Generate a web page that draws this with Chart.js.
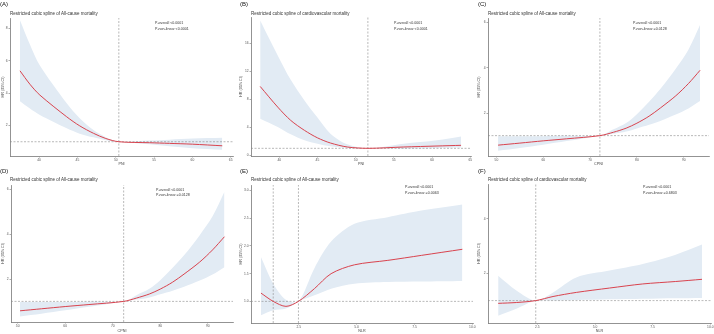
<!DOCTYPE html>
<html><head><meta charset="utf-8">
<script src="https://cdn.jsdelivr.net/npm/chart.js@4.4.0/dist/chart.umd.min.js"></script>
<style>
body{margin:0;background:#fff;width:714px;height:334px;position:relative;overflow:hidden;font-family:"Liberation Sans",Arial,sans-serif;}
.panel{position:absolute;width:238px;height:167px;}
.panel canvas{position:absolute;left:0;top:0;}
.lab{position:absolute;font-size:6px;color:#111;white-space:nowrap;line-height:1;}
.ttl{position:absolute;font-size:4.5px;color:#333;white-space:nowrap;line-height:1;}
.pv{position:absolute;font-size:3.6px;color:#333;white-space:nowrap;line-height:5.5px;}
</style></head><body>
<script>
// ---------- DATA ----------
// (A) PNI, all-cause mortality
const A_x  = [37.5, 38.8, 40.1, 43.6, 45.3, 47.1, 48.7, 50.4, 54.4, 57.0, 60.0, 63.9];
const A_hr = [5.38, 4.55, 3.88, 2.54, 1.98, 1.52, 1.20, 1.00, 0.94, 0.90, 0.85, 0.75];
const A_hi = [8.50, 7.00, 5.70, 3.37, 2.45, 1.72, 1.28, 1.00, 1.07, 1.13, 1.20, 1.25];
const A_lo = [3.50, 3.05, 2.65, 1.83, 1.50, 1.27, 1.10, 1.00, 0.84, 0.72, 0.60, 0.50];
const A_xticks = [40, 45, 50, 55, 60, 65];
const A_xlabels = ['40', '45', '50', '55', '60', '65'];
const A_yticks = [2, 4, 6, 8];
const A_ylabels = ['2', '4', '6', '8'];
const A_refs = [50.4];

// (B) PNI, cardiovascular mortality
const B_x  = [37.5, 39.8, 41.5, 43.3, 45.0, 46.7, 48.9, 51.6, 56.3, 60.65, 63.8];
const B_hr = [9.86, 6.90, 5.00, 3.57, 2.50, 1.76, 1.19, 1.00, 1.19, 1.33, 1.43];
const B_hi = [19.3, 14.3, 10.8, 7.86, 5.40, 3.10, 1.57, 1.00, 1.67, 2.14, 2.70];
const B_lo = [5.24, 4.05, 3.00, 2.14, 1.65, 1.29, 1.05, 1.00, 0.95, 1.05, 1.10];
const B_xticks = [40, 45, 50, 55, 60, 65];
const B_xlabels = ['40', '45', '50', '55', '60', '65'];
const B_yticks = [0, 4, 8, 12, 16];
const B_ylabels = ['0', '4', '8', '12', '16'];
const B_refs = [51.6];

// (C) CPNI, all-cause mortality
const C_x  = [50.35, 55.0, 60.0, 65.0, 72.1, 75.0, 77.7, 80.0, 82.6, 85.0, 88.3, 91.0, 93.5];
const C_hr = [0.58, 0.67, 0.77, 0.86, 1.00, 1.15, 1.33, 1.55, 1.86, 2.22, 2.76, 3.30, 3.89];
const C_hi = [0.97, 0.97, 0.97, 0.99, 1.00, 1.28, 1.56, 1.95, 2.50, 3.06, 3.96, 4.80, 5.90];
const C_lo = [0.33, 0.45, 0.60, 0.76, 1.00, 1.08, 1.18, 1.32, 1.48, 1.65, 1.93, 2.20, 2.53];
const C_xticks = [50, 60, 70, 80, 90];
const C_xlabels = ['50', '60', '70', '80', '90'];
const C_yticks = [2, 4, 6];
const C_ylabels = ['2', '4', '6'];
const C_refs = [72.1];

// (D) CPNI, all-cause mortality
const D_x  = [50.5, 55.0, 60.0, 65.0, 72.3, 75.0, 77.7, 80.0, 82.6, 85.0, 88.3, 91.0, 93.5];
const D_hr = [0.58, 0.67, 0.77, 0.86, 1.00, 1.15, 1.33, 1.55, 1.86, 2.22, 2.76, 3.30, 3.89];
const D_hi = [0.97, 0.97, 0.97, 0.99, 1.00, 1.28, 1.56, 1.95, 2.50, 3.06, 3.96, 4.80, 5.90];
const D_lo = [0.33, 0.45, 0.60, 0.76, 1.00, 1.08, 1.18, 1.32, 1.48, 1.65, 1.93, 2.20, 2.53];
const D_xticks = [50, 60, 70, 80, 90];
const D_xlabels = ['50', '60', '70', '80', '90'];
const D_yticks = [2, 4, 6];
const D_ylabels = ['2', '4', '6'];
const D_refs = [72.3];

// (E) NLR, all-cause mortality
const E_x  = [0.87, 1.40, 1.95, 2.49, 3.18, 3.90, 4.91, 6.35, 7.80, 9.57];
const E_hr = [1.15, 1.00, 0.91, 1.00, 1.23, 1.50, 1.66, 1.74, 1.83, 1.94];
const E_hi = [1.80, 1.32, 1.03, 1.00, 1.60, 2.08, 2.40, 2.52, 2.64, 2.75];
const E_lo = [0.75, 0.84, 0.87, 1.00, 1.11, 1.23, 1.32, 1.35, 1.36, 1.37];
const E_xticks = [2.5, 5.0, 7.5, 10.0];
const E_xlabels = ['2.5', '5.0', '7.5', '10.0'];
const E_yticks = [1.0, 1.5, 2.0, 2.5, 3.0];
const E_ylabels = ['1.0', '1.5', '2.0', '2.5', '3.0'];
const E_refs = [1.40, 2.49];

// (F) NLR, cardiovascular mortality
const F_x  = [0.80, 1.59, 2.43, 3.18, 4.19, 5.63, 7.07, 8.50, 9.64];
const F_hr = [0.90, 0.93, 1.00, 1.15, 1.30, 1.46, 1.61, 1.70, 1.78];
const F_hi = [1.91, 1.37, 1.00, 1.30, 1.85, 2.10, 2.34, 2.68, 3.05];
const F_lo = [0.45, 0.70, 1.00, 1.00, 1.02, 1.05, 1.07, 1.09, 1.10];
const F_xticks = [2.5, 5.0, 7.5, 10.0];
const F_xlabels = ['2.5', '5.0', '7.5', '10.0'];
const F_yticks = [2, 4];
const F_ylabels = ['2', '4'];
const F_refs = [2.43];

const panelLabels = ['(A)', '(B)', '(C)', '(D)', '(E)', '(F)'];
const panelTitles = [
  'Restricted cubic spline of All-cause mortality',
  'Restricted cubic spline of cardiovascular mortality',
  'Restricted cubic spline of All-cause mortality',
  'Restricted cubic spline of All-cause mortality',
  'Restricted cubic spline of All-cause mortality',
  'Restricted cubic spline of cardiovascular mortality'
];
const pOverall = ['P-overall <0.0001', 'P-overall <0.0001', 'P-overall <0.0001', 'P-overall <0.0001', 'P-overall <0.0001', 'P-overall <0.0001'];
const pNonlinear = ['P-non-linear <0.0001', 'P-non-linear <0.0001', 'P-non-linear =0.0128', 'P-non-linear =0.0128', 'P-non-linear =0.0063', 'P-non-linear =0.6803'];
const xTitles = ['PNI', 'PNI', 'CPNI', 'CPNI', 'NLR', 'NLR'];
const yTitle = 'HR (95% CI)';

// ---------- LAYOUT ----------
const FAMILY = '"Liberation Sans", Arial, sans-serif';
const panels = [
  {left:0,   top:0,   x:A_x, hr:A_hr, hi:A_hi, lo:A_lo, xt:A_xticks, xl:A_xlabels, yt:A_yticks, yl:A_ylabels, refs:A_refs,
   xr:[36.2, 65.3], yr:[0.12, 8.64], rect:{l:10, t:18, r:233, b:156}, tx:10, pvx:155, pvy:21},
  {left:238, top:0,   x:B_x, hr:B_hr, hi:B_hi, lo:B_lo, xt:B_xticks, xl:B_xlabels, yt:B_yticks, yl:B_ylabels, refs:B_refs,
   xr:[36.3, 65.1], yr:[-0.1, 19.8], rect:{l:13, t:17, r:233, b:156}, tx:13, pvx:156, pvy:21},
  {left:476, top:0,   x:C_x, hr:C_hr, hi:C_hi, lo:C_lo, xt:C_xticks, xl:C_xlabels, yt:C_yticks, yl:C_ylabels, refs:C_refs,
   xr:[48.2, 95.4], yr:[0.1, 6.2], rect:{l:12, t:18, r:233, b:156}, tx:12, pvx:157, pvy:21},
  {left:0,   top:167, x:D_x, hr:D_hr, hi:D_hi, lo:D_lo, xt:D_xticks, xl:D_xlabels, yt:D_yticks, yl:D_ylabels, refs:D_refs,
   xr:[48.6, 95.3], yr:[0.08, 6.2], rect:{l:11, t:18, r:233, b:155}, tx:10, pvx:156, pvy:20.5},
  {left:238, top:167, x:E_x, hr:E_hr, hi:E_hi, lo:E_lo, xt:E_xticks, xl:E_xlabels, yt:E_yticks, yl:E_ylabels, refs:E_refs,
   xr:[0.44, 10.03], yr:[0.61, 3.1], rect:{l:13, t:18, r:235, b:156}, tx:13, pvx:167, pvy:18},
  {left:476, top:167, x:F_x, hr:F_hr, hi:F_hi, lo:F_lo, xt:F_xticks, xl:F_xlabels, yt:F_yticks, yl:F_ylabels, refs:F_refs,
   xr:[0.36, 10.03], yr:[0.18, 5.27], rect:{l:12, t:17, r:235, b:156}, tx:12, pvx:167, pvy:18}
];

const BAND = '#e2ebf4';
const RED = '#d9434e';
const DASH = '#8a8a8a';
const AXIS = '#777777';
const TENSION = 0.3;

function pts(xs, ys){ return xs.map((v,i)=>({x:v, y:ys[i]})); }

panels.forEach((p, k) => {
  const div = document.createElement('div');
  div.className = 'panel';
  div.style.left = p.left + 'px';
  div.style.top = p.top + 'px';
  document.body.appendChild(div);

  const cv = document.createElement('canvas');
  cv.width = 238; cv.height = 167;
  cv.style.width = '238px'; cv.style.height = '167px';
  div.appendChild(cv);

  const lab = document.createElement('div');
  lab.className = 'lab'; lab.textContent = panelLabels[k];
  lab.style.left = (k % 3 === 0 ? 0 : 2) + 'px'; lab.style.top = '1px';
  div.appendChild(lab);

  const ttl = document.createElement('div');
  ttl.className = 'ttl'; ttl.textContent = panelTitles[k];
  ttl.style.left = p.tx + 'px'; ttl.style.top = (k < 3 ? 11.5 : 10.5) + 'px';
  div.appendChild(ttl);

  const pv = document.createElement('div');
  pv.className = 'pv';
  pv.innerHTML = pOverall[k] + '<br>' + pNonlinear[k];
  pv.style.left = p.pvx + 'px'; pv.style.top = p.pvy + 'px';
  div.appendChild(pv);

  const r = p.rect;
  const datasets = [
    {data: pts(p.x, p.hr), borderColor: RED, borderWidth: 1, pointRadius: 0, fill: false,
     tension: TENSION, order: 1},
    {data: [{x:p.xr[0], y:1}, {x:p.xr[1], y:1}], borderColor: DASH, borderWidth: 0.6,
     borderDash: [2, 1.5], pointRadius: 0, fill: false, order: 2}
  ];
  p.refs.forEach(rv => datasets.push({data: [{x:rv, y:p.yr[0]}, {x:rv, y:p.yr[1]}], borderColor: DASH,
    borderWidth: 0.6, borderDash: [2, 1.5], pointRadius: 0, fill: false, order: 2}));
  const hiIndex = datasets.length;
  datasets.push({data: pts(p.x, p.hi), borderWidth: 0, borderColor: 'rgba(0,0,0,0)', backgroundColor: BAND,
    pointRadius: 0, fill: hiIndex + 1, tension: TENSION, order: 3});
  datasets.push({data: pts(p.x, p.lo), borderWidth: 0, borderColor: 'rgba(0,0,0,0)', pointRadius: 0,
    fill: false, tension: TENSION, order: 3});

  const tickFont = {size: 3.3, family: FAMILY};
  const titleFont = {size: 3.7, family: FAMILY};
  new Chart(cv, {
    type: 'line',
    data: {datasets},
    options: {
      responsive: false, animation: false, events: [],
      layout: {padding: {left: 0, top: r.t, right: 238 - r.r, bottom: 0}},
      plugins: {legend: {display: false}, tooltip: {enabled: false}},
      scales: {
        x: {
          type: 'linear', min: p.xr[0], max: p.xr[1],
          afterBuildTicks: s => { s.ticks = p.xt.map(v => ({value: v})); },
          afterFit: s => { s.height = 167 - r.b; s.paddingLeft = 0; s.paddingRight = 0; },
          ticks: {callback: (v, i) => p.xl[i], font: tickFont, color: '#555', padding: 0.8,
                  maxRotation: 0, autoSkip: false},
          grid: {display: true, drawOnChartArea: false, drawTicks: true, tickLength: 1.5, color: AXIS, lineWidth: 0.6},
          border: {display: true, color: AXIS, width: 0.8},
          title: {display: true, text: xTitles[k], font: titleFont, color: '#444', padding: {top: 0, bottom: 0.8}}
        },
        y: {
          type: 'linear', min: p.yr[0], max: p.yr[1],
          afterBuildTicks: s => { s.ticks = p.yt.map(v => ({value: v})); },
          afterFit: s => { s.width = r.l; s.paddingTop = 0; s.paddingBottom = 0; },
          ticks: {callback: (v, i) => p.yl[i], font: tickFont, color: '#555', padding: 0.8, autoSkip: false},
          grid: {display: true, drawOnChartArea: false, drawTicks: true, tickLength: 1.5, color: AXIS, lineWidth: 0.6},
          border: {display: true, color: AXIS, width: 0.8},
          title: {display: true, text: yTitle, font: titleFont, color: '#444', padding: {top: 0.8, bottom: 0}}
        }
      }
    }
  });
});
</script>
</body></html>
